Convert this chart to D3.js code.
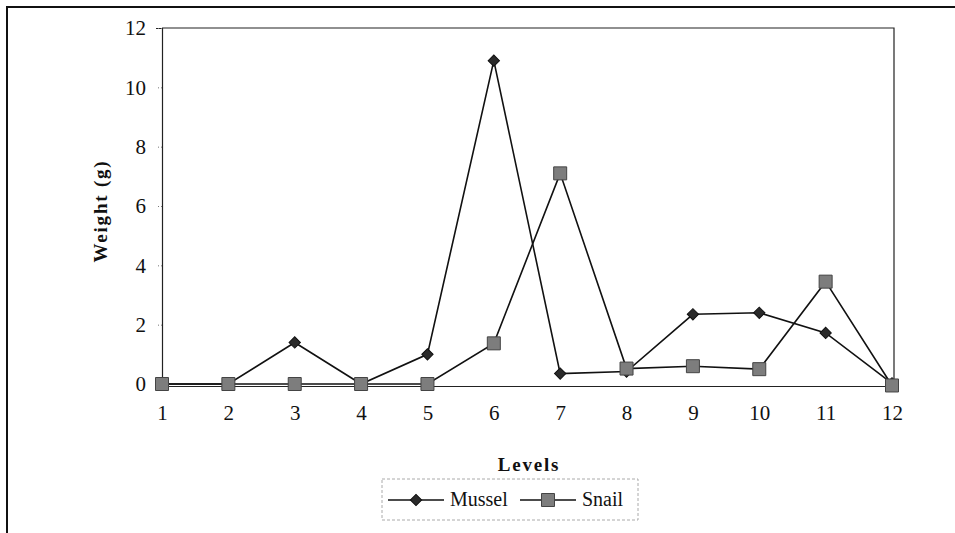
<!DOCTYPE html>
<html>
<head>
<meta charset="utf-8">
<script src="https://cdn.jsdelivr.net/npm/d3@7"></script>
<style>
  body { margin: 0; background: #fff; }
  text { font-family: "Liberation Serif", "Times New Roman", serif; fill: #111; }
</style>
</head>
<body>
<div id="chart"></div>
<script>
const width = 955;
const height = 533;
var margin = { left: 162, top: 28, right: 65, bottom: 149 }

const levels = [1, 2, 3, 4, 5, 6, 7, 8, 9, 10, 11, 12]
const mussel = [0, 0, 1.4, 0, 1.0, 10.9, 0.35, 0.42, 2.35, 2.4, 1.72, 0.02]
const snail = [0, 0, 0, 0, 0, 1.37, 7.1, 0.52, 0.6, 0.5, 3.45, -0.05]
const yTicks = [0, 2, 4, 6, 8, 10, 12]

const serif = "'Liberation Serif', 'Times New Roman', serif"

var svg = d3.select("#chart").append("svg")
    .attr("width", width)
    .attr("height", height)

// outer frame
svg.append("rect")
    .attr("x", 7).attr("y", 7)
    .attr("width", width + 20).attr("height", height + 20)
    .style("fill", "none").style("stroke", "#111").style("stroke-width", 2)

var x = d3.scaleLinear().domain([1, 12]).range([margin.left, width - margin.right + 2])
var y = d3.scaleLinear().domain([0, 12]).range([height - margin.bottom, margin.top])

// plot area border (top, right)
svg.append("path")
    .attr("d", "M" + x(1) + "," + y(12) + "H" + (x(12) + 2) + "V" + y(0))
    .style("fill", "none").style("stroke", "#222").style("stroke-width", 1.2)

// y axis
var yAxis = svg.append("g")
    .attr("transform", "translate(" + x(1) + ",0)")
    .call(d3.axisLeft(y).tickValues(yTicks).tickSize(6).tickPadding(10))
yAxis.select(".domain").style("stroke", "#222").style("stroke-width", 1.2)
yAxis.selectAll(".tick line").style("stroke", "#777").style("stroke-dasharray", "1,2")
yAxis.selectAll(".tick text")
    .style("font-size", "21px")
    .style("font-family", serif)
    .style("fill", "#111")

// x axis
var xAxis = svg.append("g")
    .attr("transform", "translate(0," + (y(0) + 2) + ")")
    .call(d3.axisBottom(x).tickValues(levels).tickSize(0).tickPadding(19).tickFormat(d3.format("d")))
xAxis.select(".domain").style("stroke", "#222").style("stroke-width", 1.2)
xAxis.selectAll(".tick text")
    .style("font-size", "21px")
    .style("font-family", serif)
    .style("fill", "#111")

// axis titles
svg.append("text")
    .attr("transform", "translate(107," + ((y(0) + y(12)) / 2 + 5) + ") rotate(-90)")
    .attr("text-anchor", "middle")
    .style("font-family", serif)
    .style("font-size", "19px")
    .style("font-weight", "bold")
    .style("letter-spacing", "1.8px")
    .text("Weight (g)")

svg.append("text")
    .attr("x", (x(1) + x(12)) / 2 + 2)
    .attr("y", 471)
    .attr("text-anchor", "middle")
    .style("font-family", serif)
    .style("font-size", "19px")
    .style("font-weight", "bold")
    .style("letter-spacing", "1.8px")
    .text("Levels")

var line = d3.line()
    .x((d, i) => x(levels[i]))
    .y(d => y(d))

function drawSeries(values, shape) {
    svg.append("path")
        .datum(values)
        .attr("d", line)
        .style("fill", "none")
        .style("stroke", "#111")
        .style("stroke-width", 1.6)
    svg.selectAll(null)
        .data(values)
        .enter()
        .append("path")
        .attr("transform", (d, i) => "translate(" + x(levels[i]) + "," + y(d) + ")" + (shape === "diamond" ? " rotate(45)" : ""))
        .attr("d", shape === "diamond" ? "M-4,-4H4V4H-4Z" : "M-6.5,-6.5H6.5V6.5H-6.5Z")
        .style("fill", shape === "diamond" ? "#2a2a2a" : "#7d7d7d")
        .style("stroke", shape === "diamond" ? "#111" : "#444")
        .style("stroke-width", 1)
}

// mussel first, snail squares sit on top
drawSeries(mussel, "diamond")
drawSeries(snail, "square")

// legend
var legendX = 382, legendY = 479
svg.append("rect")
    .attr("x", legendX).attr("y", legendY)
    .attr("width", 256).attr("height", 41)
    .style("fill", "none").style("stroke", "#aaa").style("stroke-dasharray", "3,2")

var legendItems = [
    { name: "Mussel", shape: "diamond", x0: legendX + 6 },
    { name: "Snail", shape: "square", x0: legendX + 138 }
]
legendItems.forEach(item => {
    var cy = legendY + 21
    svg.append("line")
        .attr("x1", item.x0).attr("x2", item.x0 + 56)
        .attr("y1", cy).attr("y2", cy)
        .style("stroke", "#111").style("stroke-width", 1.6)
    svg.append("path")
        .attr("transform", "translate(" + (item.x0 + 28) + "," + cy + ")" + (item.shape === "diamond" ? " rotate(45)" : ""))
        .attr("d", item.shape === "diamond" ? "M-4,-4H4V4H-4Z" : "M-6.5,-6.5H6.5V6.5H-6.5Z")
        .style("fill", item.shape === "diamond" ? "#2a2a2a" : "#7d7d7d")
        .style("stroke", item.shape === "diamond" ? "#111" : "#444")
    svg.append("text")
        .attr("x", item.x0 + 62)
        .attr("y", cy + 6)
        .style("font-family", serif)
        .style("font-size", "20px")
        .text(item.name)
})
</script>
</body>
</html>
